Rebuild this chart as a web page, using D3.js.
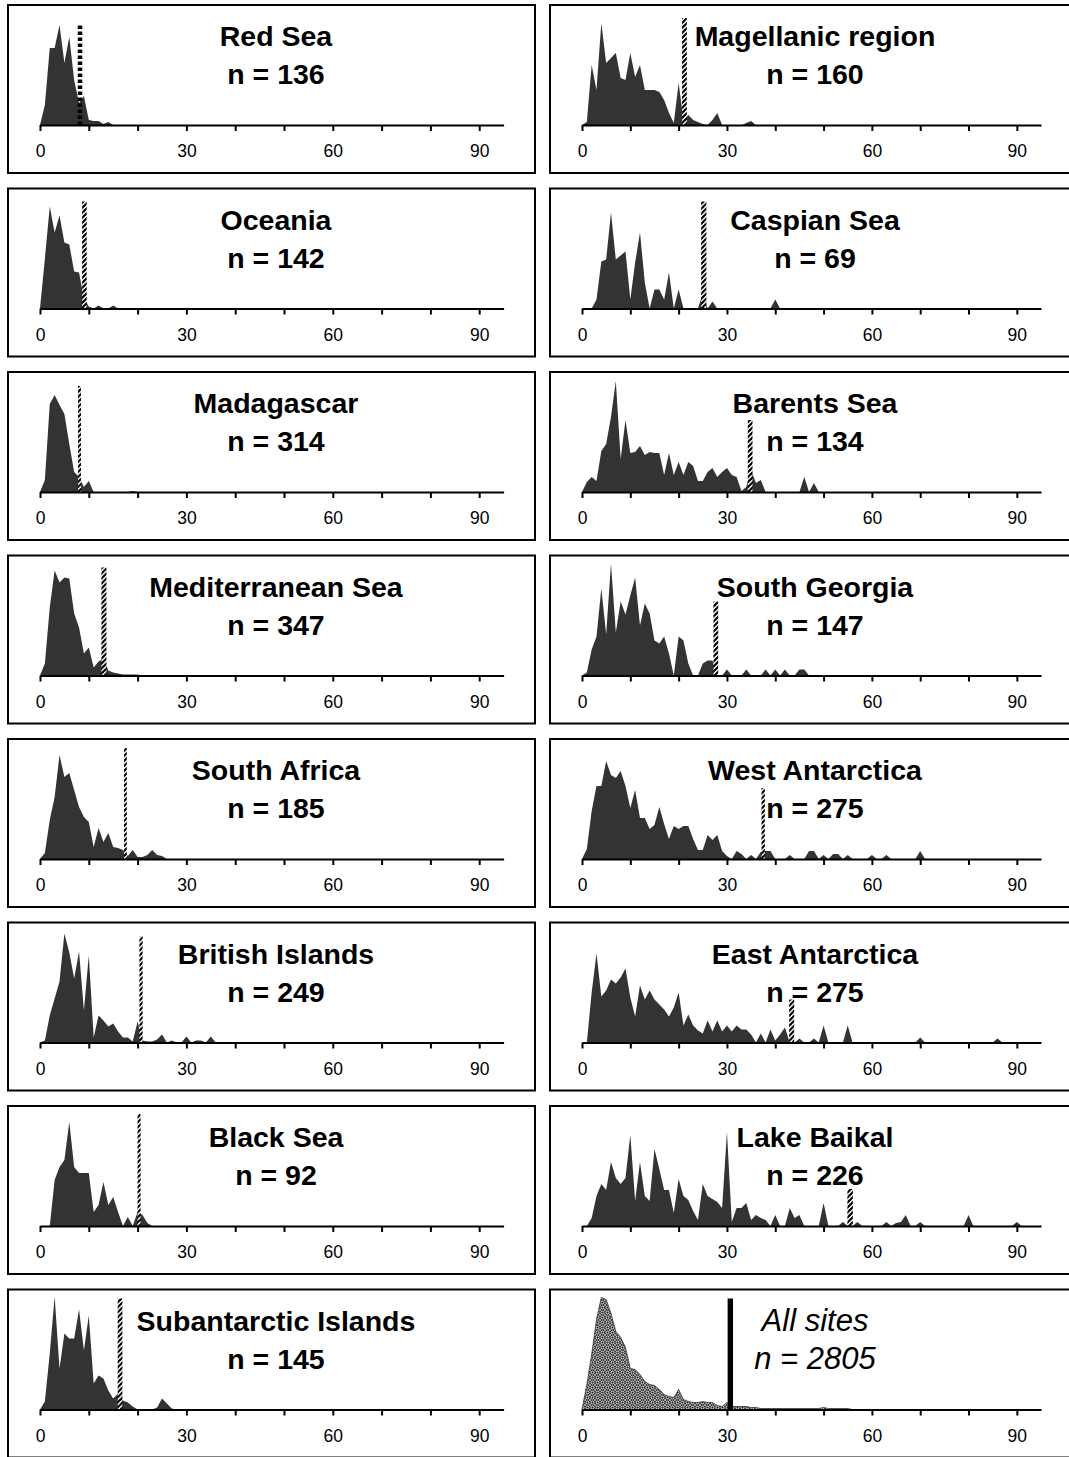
<!DOCTYPE html>
<html>
<head>
<meta charset="utf-8">
<script src="https://cdn.jsdelivr.net/npm/d3@7"></script>
<style>
  body { margin: 0; background: #fff; }
  text { font-family: "Liberation Sans", Arial, sans-serif; }
</style>
</head>
<body>
<div id="chart"></div>
<script>
/**
 * DATA
 * relative frequency (peak ~100) at each depth step 0, 1, 2, ...
 * */
const tickValues = [0, 10, 20, 30, 40, 50, 60, 70, 80, 90];
const tickLabels = ["0", "30", "60", "90"];

const regions = [
  "Red Sea", "Oceania", "Madagascar", "Mediterranean Sea",
  "South Africa", "British Islands", "Black Sea", "Subantarctic Islands",
  "Magellanic region", "Caspian Sea", "Barents Sea", "South Georgia",
  "West Antarctica", "East Antarctica", "Lake Baikal", "All sites"
];
const sampleSizes = [136, 142, 314, 347, 185, 249, 92, 145, 160, 69, 134, 147, 275, 275, 226, 2805];

// position of the vertical marker line and how high it reaches
const markerAt = [8.2, 9.1, 8.1, 13.1, 17.5, 20.7, 20.3, 16.4, 21.2, 25.2, 34.8, 27.7, 37.5, 43.4, 55.5, 30.7];
const markerTop = [100, 107, 106, 108, 111, 106, 112, 111, 107, 107, 72, 74, 71, 43, 37, 111];

const redSea = [0, 20, 77, 77, 100, 62, 88, 45, 22, 29, 5, 4, 4, 1, 3, 0];
const oceania = [0, 50, 102, 76, 93, 66, 64, 37, 36, 10, 2, 0, 3, 0, 0, 3, 0];
const madagascar = [0, 12, 88, 97, 87, 78, 48, 20, 15, 5, 11, 0, 0, 0, 0, 0, 0, 0, 0, 1, 0];
const mediterranean = [0, 12, 68, 105, 93, 98, 97, 62, 48, 22, 28, 8, 14, 17, 5, 3, 2, 1, 1, 1, 1, 0];
const southAfrica = [0, 6, 39, 62, 104, 82, 86, 69, 52, 42, 37, 12, 31, 17, 26, 12, 11, 9, 3, 9, 2, 2, 4, 9, 4, 3, 0];
const britishIslands = [0, 2, 27, 44, 61, 109, 90, 64, 91, 32, 87, 5, 27, 22, 16, 19, 11, 5, 5, 1, 21, 2, 1, 1, 3, 8, 0, 2, 0, 0, 6, 0, 2, 2, 0, 6, 0];
const blackSea = [0, 0, 0, 46, 59, 66, 104, 59, 53, 53, 53, 14, 21, 44, 21, 29, 14, 0, 9, 0, 14, 11, 3, 0];
const subantarctic = [0, 8, 56, 113, 41, 76, 71, 71, 100, 59, 94, 26, 34, 31, 19, 11, 16, 9, 7, 3, 0, 0, 0, 0, 2, 11, 6, 1, 0];
const magellanic = [0, 3, 60, 35, 102, 62, 67, 72, 47, 45, 72, 48, 60, 35, 35, 35, 33, 25, 12, 2, 42, 5, 10, 5, 3, 1, 0, 5, 12, 0, 0, 0, 0, 0, 2, 4, 0];
const caspian = [0, 0, 0, 9, 47, 49, 96, 49, 53, 57, 9, 46, 76, 26, 0, 19, 19, 9, 36, 0, 19, 0, 0, 0, 0, 15, 0, 7, 0, 0,
  0, 0, 0, 0, 0, 0, 0, 0, 0, 0, 9, 0];
const barents = [0, 10, 15, 11, 41, 48, 75, 111, 33, 72, 39, 40, 46, 37, 40, 39, 39, 17, 39, 17, 30, 17, 30, 26, 11, 11, 20, 24, 15, 20,
  24, 17, 15, 1, 5, 22, 9, 12, 0, 0, 0, 0, 0, 0, 0, 0, 15, 0, 9, 0];
const southGeorgia = [0, 3, 26, 39, 87, 41, 112, 43, 74, 61, 80, 98, 50, 72, 62, 35, 32, 39, 22, 0, 39, 35, 12, 0, 0, 12, 15, 15, 0, 0,
  6, 0, 0, 0, 6, 0, 0, 0, 6, 0, 6, 0, 6, 0, 0, 6, 6, 0];
const westAntarctica = [0, 10, 48, 73, 73, 98, 84, 81, 88, 73, 51, 69, 41, 41, 30, 34, 52, 35, 20, 33, 30, 33, 33, 20, 9, 9, 24, 19, 24, 8,
  3, 0, 8, 5, 0, 4, 0, 7, 8, 8, 0, 0, 0, 4, 0, 0, 0, 8, 8, 0, 4, 0, 5, 5, 0, 4, 0, 0, 0, 0,
  4, 0, 0, 4, 0, 0, 0, 0, 0, 0, 8, 0];
const eastAntarctica = [0, 0, 50, 89, 46, 52, 63, 59, 65, 74, 45, 26, 57, 43, 52, 43, 38, 33, 26, 35, 50, 17, 28, 17, 12, 9, 22, 11, 22, 11,
  17, 11, 17, 13, 13, 8, 0, 9, 0, 13, 2, 8, 15, 0, 0, 4, 0, 0, 4, 0, 17, 0, 0, 0, 0, 17, 0, 0, 0, 0,
  0, 0, 0, 0, 0, 0, 0, 0, 0, 0, 5, 0, 0, 0, 0, 0, 0, 0, 0, 0, 0, 0, 0, 0, 0, 0, 4, 0];
const lakeBaikal = [0, 0, 8, 30, 42, 36, 64, 48, 42, 48, 91, 25, 64, 30, 25, 77, 57, 36, 36, 13, 47, 30, 26, 15, 6, 42, 30, 27, 24, 18,
  94, 4, 18, 18, 23, 6, 11, 8, 6, 0, 11, 0, 0, 18, 8, 11, 0, 0, 0, 0, 23, 0, 0, 0, 4, 0, 0, 4, 0, 0,
  0, 0, 0, 4, 0, 3, 4, 11, 0, 0, 4, 0, 0, 0, 0, 0, 0, 0, 0, 0, 11, 0, 0, 0, 0, 0, 0, 0, 0, 0, 4, 0];
const allSites = [0, 25, 55, 90, 112, 110, 96, 78, 72, 62, 41, 40, 35, 28, 25, 24, 20, 15, 13, 12, 20, 10, 8, 7, 7, 8, 7, 7, 4, 3,
  7, 3, 3, 3, 3, 2, 2, 1, 1, 1, 1, 1, 1, 1, 1, 1, 1, 1, 1, 1, 2, 1, 1, 1, 1, 1, 0];

const series = [redSea, oceania, madagascar, mediterranean, southAfrica, britishIslands, blackSea, subantarctic,
  magellanic, caspian, barents, southGeorgia, westAntarctica, eastAntarctica, lakeBaikal, allSites];

/**
 * LAYOUT
 * */
const width = 1069, height = 1457;
const boxX = [8, 550], boxW = 527, boxH = 168;
const rowTop = 5, rowStep = 183.5, axisDrop = 120;
const xRange = [[40, 503.6], [582, 1041]];
const titleX = [276, 815];
const markerW = [4.5, 4.5, 3, 5, 2.8, 3.2, 3, 4.7, 4.7, 5.2, 4.7, 4.7, 3.3, 5, 5.4, 5.4];

const svg = d3.select("#chart").append("svg")
  .attr("width", width)
  .attr("height", height);

svg.append("rect").attr("width", width).attr("height", height).attr("fill", "#fff");

const defs = svg.append("defs");

// diagonal black/white stripes for the marker lines
const hatch = defs.append("pattern")
  .attr("id", "hatch")
  .attr("patternUnits", "userSpaceOnUse")
  .attr("width", 5).attr("height", 5);
hatch.append("rect").attr("width", 5).attr("height", 5).attr("fill", "#fff");
hatch.append("path")
  .attr("d", "M-1.25,1.25 l2.5,-2.5 M0,5 l5,-5 M3.75,6.25 l2.5,-2.5")
  .attr("stroke", "#000").attr("stroke-width", 2.2);

// dotted texture for the pooled distribution
const dots = defs.append("pattern")
  .attr("id", "dots")
  .attr("patternUnits", "userSpaceOnUse")
  .attr("width", 5).attr("height", 5);
dots.append("rect").attr("width", 5).attr("height", 5).attr("fill", "#1e1e1e");
dots.append("circle").attr("cx", 2.5).attr("cy", 2.5).attr("r", 1.5).attr("fill", "none")
  .attr("stroke", "#fff").attr("stroke-width", 0.9);
dots.append("path").attr("d", "M0,0h1.2M3.8,0h1.2M0,5h1.2M3.8,5h1.2M0,0v1.2M0,3.8v1.2M5,0v1.2M5,3.8v1.2")
  .attr("stroke", "#ddd").attr("stroke-width", 0.8);

regions.forEach((name, i) => {
  const col = i < 8 ? 0 : 1;
  const row = i % 8;
  const top = rowTop + row * rowStep;
  const axisY = top + axisDrop;

  const x = d3.scaleLinear().domain([0, 95]).range(xRange[col]);
  const y = d3.scaleLinear().domain([0, 100]).range([axisY, axisY - 100]);

  const g = svg.append("g").attr("class", "panel");

  g.append("rect")
    .attr("x", boxX[col]).attr("y", top)
    .attr("width", boxW).attr("height", boxH)
    .attr("fill", "none").attr("stroke", "#000").attr("stroke-width", 2);

  const area = d3.area()
    .x((d, j) => x(j))
    .y0(y(0))
    .y1(d => y(d));

  const pooled = name === "All sites";
  g.append("path")
    .datum(series[i])
    .attr("d", area)
    .attr("fill", pooled ? "url(#dots)" : "#333")
    .attr("stroke", pooled ? "#333" : "none")
    .attr("stroke-width", 0.8);

  // marker line
  const mx = x(markerAt[i]);
  if (name === "Red Sea") {
    g.append("line")
      .attr("x1", mx).attr("x2", mx)
      .attr("y1", y(0)).attr("y2", y(markerTop[i]))
      .attr("stroke", "#000").attr("stroke-width", markerW[i])
      .attr("stroke-dasharray", "3.5,2.5");
  } else {
    g.append("rect")
      .attr("x", mx - markerW[i] / 2).attr("y", y(markerTop[i]))
      .attr("width", markerW[i]).attr("height", y(0) - y(markerTop[i]))
      .attr("fill", pooled ? "#000" : "url(#hatch)");
  }

  // axis
  const axis = d3.axisBottom(x)
    .tickValues(tickValues)
    .tickSize(6)
    .tickSizeOuter(0)
    .tickPadding(14)
    .tickFormat(d => tickLabels.includes(String(d)) ? d : "");

  const ax = g.append("g")
    .attr("transform", `translate(0,${axisY})`)
    .call(axis);
  ax.select(".domain").attr("stroke-width", 2);
  ax.selectAll(".tick line").attr("stroke-width", 2);
  ax.selectAll(".tick text")
    .attr("font-size", 17.5)
    .attr("font-family", "Liberation Sans, Arial, sans-serif")
    .attr("fill", "#000");

  // titles
  g.append("text")
    .attr("x", titleX[col]).attr("y", axisY - 79)
    .attr("text-anchor", "middle")
    .attr("font-size", pooled ? 31 : 28.5)
    .attr("font-weight", pooled ? "normal" : "bold")
    .attr("font-style", pooled ? "italic" : "normal")
    .text(name);
  g.append("text")
    .attr("x", titleX[col]).attr("y", axisY - 41)
    .attr("text-anchor", "middle")
    .attr("font-size", pooled ? 31 : 28.5)
    .attr("font-weight", pooled ? "normal" : "bold")
    .attr("font-style", pooled ? "italic" : "normal")
    .text(`n = ${sampleSizes[i]}`);
});
</script>
</body>
</html>
